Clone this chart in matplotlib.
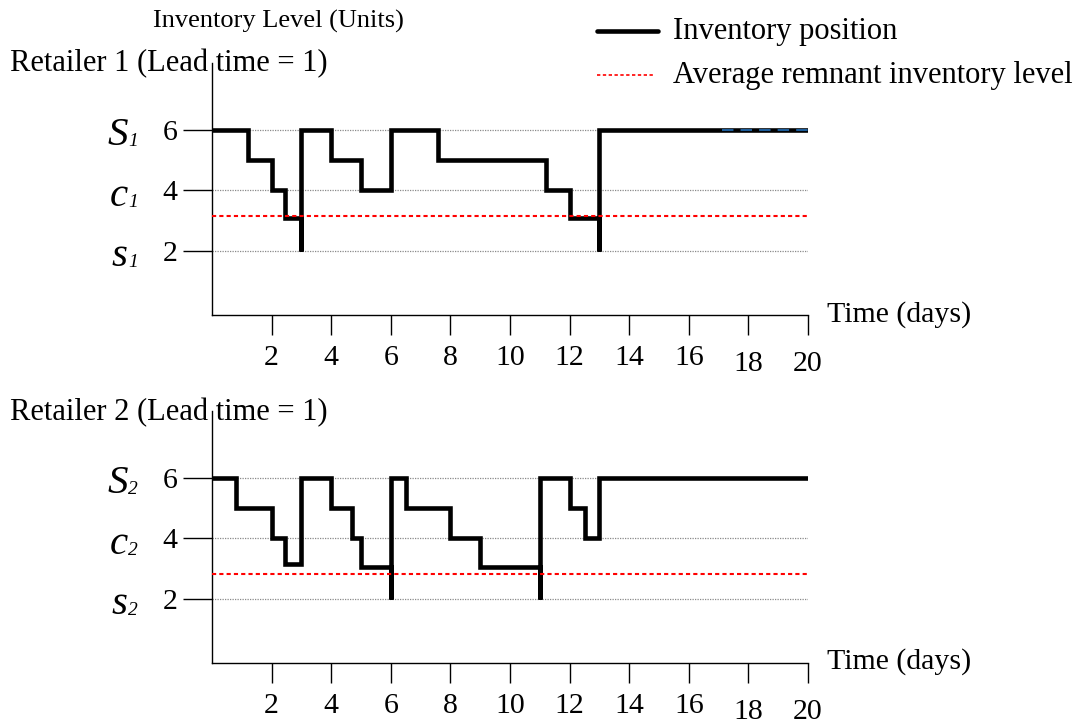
import matplotlib
matplotlib.use("Agg")
import matplotlib.pyplot as plt
from matplotlib.lines import Line2D

# ---------------------------------------------------------------- data
day_ticks = [2, 4, 6, 8, 10, 12, 14, 16, 18, 20]
level_ticks = [2, 4, 6]

# Retailer 1: times at which the inventory position changes, and the new level
r1_times = [0, 1.2, 2.0, 2.45, 3.0, 3.0, 4.0, 5.0, 6.0, 7.6, 11.2, 12.0, 13.0, 13.0, 20]
r1_levels = [6, 5, 4, 3.1, 2, 6, 5, 4, 6, 5, 4, 3.1, 2, 6, 6]
r1_avg = 3.17
r1_marks = ["S", "c", "s"]
r1_tail_days = [17.1, 20]
r1_tail_level = 6

# Retailer 2
r2_times = [0, 0.8, 2.0, 2.45, 3.0, 4.0, 4.7, 5.0, 6.0, 6.0, 6.5, 8.0, 9.0,
            11.0, 11.0, 12.0, 12.5, 13.0, 20]
r2_levels = [6, 5, 4, 3.15, 6, 5, 4, 3.05, 2, 6, 5, 4, 3.05, 2, 6, 5, 4, 6, 6]
r2_avg = 2.81

panel_titles = ["Retailer 1 (Lead time = 1)", "Retailer 2 (Lead time = 1)"]
legend_labels = ["Inventory position", "Average remnant inventory level"]

# ---------------------------------------------------------------- style
W, H, DPI = 1084, 724, 100
plt.rcParams["font.family"] = ["Liberation Serif", "DejaVu Serif"]
FS = 21.5

fig = plt.figure(figsize=(W / DPI, H / DPI), dpi=DPI)


def fx(px):
    return px / W


def fy(py):
    return 1 - py / H


def add_panel(top_px, bottom_px):
    ax = fig.add_axes([fx(212), fy(bottom_px), (808 - 212) / W, (bottom_px - top_px) / H])
    ax.set_xlim(0, 20)
    ax.set_ylim(-0.12, 8.2)
    for s in ("top", "right"):
        ax.spines[s].set_visible(False)
    for s in ("left", "bottom"):
        ax.spines[s].set_linewidth(1.0)
    ax.set_xticks(day_ticks)
    ax.set_yticks(level_ticks)
    ax.tick_params(axis="x", direction="out", length=14.4, width=1.0, pad=7.0,
                   labelsize=FS)
    ax.tick_params(axis="y", direction="out", length=21, width=1.0, pad=3.6,
                   labelsize=FS)
    # the last two day ticks hang a little lower
    for t in ax.xaxis.get_major_ticks()[-2:]:
        t.tick1line.set_markersize(18)
        t.set_pad(11.3)
    for lv in level_ticks:
        ax.plot([0, 20], [lv, lv], color="#8a8a8a", lw=0.9, ls=(0, (1, 1)), zorder=1)
    ax.set_facecolor("none")
    return ax


def draw_panel(ax, times, levels, avg, idx, title_y, axis_y, level_px):
    ax.step(times, levels, where="post", color="black", lw=3.3,
            solid_joinstyle="miter", solid_capstyle="round", zorder=3)
    ax.plot([0, 20], [avg, avg], color="#ff0000", lw=1.5, ls=(0, (2, 1.5)), zorder=4)
    fig.text(fx(10), fy(title_y), panel_titles[idx], fontsize=22, ha="left", va="center")
    fig.text(fx(827), fy(axis_y), "Time (days)", fontsize=FS, ha="left", va="center")
    # policy parameter names beside the level ticks
    for mark, lv in zip(r1_marks, level_ticks[::-1]):
        base = level_px[lv] + 15
        fig.text(fx(128), fy(base), mark, fontsize=29.5, style="italic",
                 ha="right", va="baseline")
        fig.text(fx(128), fy(base + 1), str(idx + 1), fontsize=14, style="italic",
                 ha="left", va="baseline")


ax1 = add_panel(63.45, 315.1)
draw_panel(ax1, r1_times, r1_levels, r1_avg, 0, 64, 315, {6: 130, 4: 191, 2: 251})
ax1.plot(r1_tail_days, [r1_tail_level] * 2, color="#1c5c99", lw=1.5,
         ls=(0, (5.5, 3.4)), zorder=5)

ax2 = add_panel(411.45, 663.1)
draw_panel(ax2, r2_times, r2_levels, r2_avg, 1, 413, 662, {6: 478, 4: 539, 2: 599})

# y-axis caption
fig.text(fx(153), fy(21), "Inventory Level (Units)", fontsize=19, ha="left", va="center")

# legend
fig.add_artist(Line2D([fx(597), fx(658)], [fy(31), fy(31)], color="black", lw=3.3,
                      solid_capstyle="round"))
fig.add_artist(Line2D([fx(597), fx(653)], [fy(75), fy(75)], color="#ff0000", lw=1.2,
                      ls=(0, (2, 1.5))))
fig.text(fx(673), fy(31), legend_labels[0], fontsize=22, ha="left", va="center")
fig.text(fx(673), fy(75), legend_labels[1], fontsize=22, ha="left", va="center")

fig.savefig("out.png", dpi=DPI)
